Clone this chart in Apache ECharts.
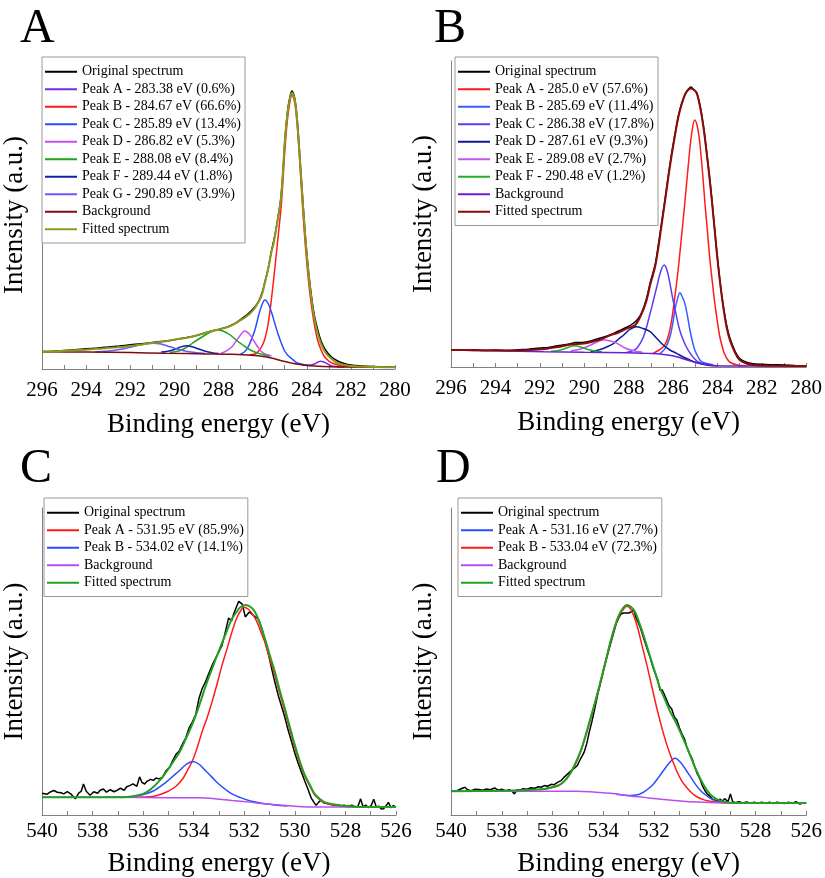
<!DOCTYPE html>
<html>
<head>
<meta charset="utf-8">
<script src="https://cdn.jsdelivr.net/npm/echarts@6/dist/echarts.min.js"></script>
<style>
  html, body { margin: 0; padding: 0; background: #fff; }
  #chart { width: 825px; height: 878px; }
</style>
</head>
<body>
<div id="chart"></div>
<script>
// ---- 面板 A: C 1s (binding energy, intensity in a.u.) ----
const A_orig = [[296,17.5],[295.5,17.8],[295,18.5],[294.5,19.2],[294,20.2],[293.5,21],[293,22],[292.5,23],[292,24.2],[291.5,25.2],[291,26.5],[290.5,27.8],[290,29.3],[289.5,31.2],[289,33.5],[288.5,36.8],[288,39.6],[287.6,42],[287.3,45],[287,49.5],[286.75,53.5],[286.5,58.5],[286.3,63.5],[286.15,69],[286,78],[285.9,87],[285.75,100],[285.6,118],[285.45,133],[285.3,152],[285.18,170],[285.08,197],[285,226],[284.9,252],[284.8,268],[284.67,278],[284.55,271],[284.45,254],[284.36,228],[284.22,182],[284.08,138],[283.93,100],[283.78,72],[283.65,53],[283.5,39],[283.35,28],[283.15,19],[282.9,12.5],[282.6,8],[282.3,5.5],[282,4],[281.5,3],[281,2.4],[280.5,2],[280,1.8]];
const A_peakA = [[284.2,4.1],[284,3.7],[283.8,4],[283.65,5],[283.5,6.8],[283.38,7.8],[283.25,7.2],[283.1,5.6],[282.95,3.9],[282.8,2.8],[282.6,2.2],[282.3,2]];
const A_peakB = [[286.6,14.2],[286.35,15],[286.2,17.5],[286.05,22],[285.9,30],[285.75,45],[285.6,70],[285.45,100],[285.3,132],[285.15,165],[285,216],[284.9,244],[284.8,262],[284.67,274],[284.55,267],[284.45,248],[284.36,222],[284.22,172],[284.08,128],[283.93,90],[283.78,62],[283.65,44],[283.51,29],[283.35,19],[283.2,12.5],[283,8],[282.8,5.5],[282.5,3.5],[282.2,2.6],[281.8,2.2],[281.3,2]];
const A_peakC = [[287,15],[286.8,17.5],[286.65,22.3],[286.5,30],[286.35,39],[286.2,52],[286.05,63],[285.9,69],[285.75,65.5],[285.6,57],[285.45,45.7],[285.3,35],[285.15,25.7],[285,18],[284.85,13.5],[284.7,10.7],[284.55,7.8],[284.4,5.7],[284.1,4.3],[283.8,3.5]];
const A_peakD = [[287.9,15.5],[287.7,17.3],[287.4,22],[287.2,28],[287,34],[286.82,38],[286.6,35],[286.42,29],[286.25,23],[286.05,17.3],[285.8,14.3],[285.6,13]];
const A_peakE = [[290.2,16.5],[289.8,18],[289.5,21],[289.2,25.5],[288.9,30],[288.6,34],[288.3,37.5],[288.07,39],[287.8,38],[287.5,34.5],[287.2,29],[286.9,24],[286.6,19.5],[286.3,16.5],[286,14.5],[285.7,12.8]];
const A_peakF = [[290.6,17],[290.3,17.8],[290,19.5],[289.75,21.8],[289.44,23.3],[289.15,22],[288.9,20],[288.6,17.8],[288.3,16.3],[288,15.5]];
const A_peakG = [[293.6,17.2],[293,18],[292.5,19.5],[292,21.8],[291.5,24.2],[291,25.8],[290.6,25],[290.2,22.2],[289.8,19.5],[289.4,17.4],[289,16.3],[288.6,15.6]];
const A_bg = [[296,17.3],[294,16.9],[292,16.4],[290.4,15.7],[288.5,15.1],[287.4,14.7],[286.5,13.8],[285.9,12.3],[285.5,10.5],[285.15,8.3],[284.8,6.5],[284.4,4.7],[284,3.6],[283.66,3],[282.9,2.3],[282,2],[280,1.8]];
const A_fit = [[296,17.3],[295,18.2],[294,19.3],[293.37,20.3],[292.6,21.7],[291.88,23.3],[291.4,24.8],[291,26],[290.5,27.5],[290.08,29],[289.7,30.4],[289.33,31.7],[288.95,33.8],[288.59,36.3],[288.3,38],[288.07,39],[287.8,40.6],[287.54,42.3],[287.3,44.8],[287.02,48.5],[286.8,51.5],[286.57,55.5],[286.35,61],[286.2,66.5],[286.05,73],[285.9,86],[285.75,100],[285.62,115],[285.5,126],[285.35,145],[285.18,169],[285.08,196],[285,225.7],[284.9,250],[284.8,266],[284.67,276],[284.55,270],[284.45,252],[284.36,226],[284.22,180],[284.08,136],[283.93,98],[283.78,69],[283.65,50],[283.51,36],[283.35,25],[283.14,16],[282.9,10.5],[282.61,6],[282.3,4],[282,3],[281.5,2.4],[281,2],[280,1.8]];
const A_names = ['Original spectrum','Peak A - 283.38 eV (0.6%)','Peak B - 284.67 eV (66.6%)','Peak C - 285.89 eV (13.4%)','Peak D - 286.82 eV (5.3%)','Peak E - 288.08 eV (8.4%)','Peak F - 289.44 eV (1.8%)','Peak G - 290.89 eV (3.9%)','Background','Fitted spectrum'];

// ---- 面板 B ----
const B_orig = [[296,17.3],[295.5,16.8],[295,17.2],[294.5,16.5],[294,16.9],[293.5,16.4],[293,17.2],[292.5,17.8],[292,18.9],[291.6,19.6],[291.2,21.2],[290.8,22.4],[290.4,24.4],[290,24.8],[289.6,26.8],[289.27,29],[288.9,31.5],[288.5,35.5],[288.06,40],[287.8,43.5],[287.6,47.5],[287.4,55],[287.2,68],[287.02,85],[286.81,102],[286.65,124],[286.51,145],[286.36,168],[286.21,192],[286.06,214],[285.91,233],[285.76,251],[285.62,263],[285.45,273],[285.3,278],[285.2,280],[285.05,277],[284.93,274],[284.78,261],[284.63,241],[284.48,214],[284.33,185],[284.18,151],[284.04,118],[283.89,87],[283.74,62],[283.59,42],[283.44,29],[283.2,15.5],[283,8.5],[282.7,4.8],[282.4,3.3],[282,2.7],[281.5,2.3],[281,2],[280.5,1.5],[280,1.2]];
const B_peakA = [[286.9,13.6],[286.66,16.5],[286.5,19],[286.36,22.5],[286.21,31],[286.06,47],[285.92,70],[285.77,97],[285.62,130],[285.47,164],[285.32,200],[285.17,232],[285.02,247],[284.9,240],[284.8,225],[284.68,197],[284.57,166],[284.46,138],[284.35,110],[284.23,85],[284.12,64],[284,45],[283.9,31],[283.78,20],[283.68,13],[283.53,7],[283.38,4],[283.1,2],[282.7,1.2]];
const B_peakB = [[286.6,13.2],[286.36,18.3],[286.14,30],[286,45],[285.92,57],[285.8,68],[285.69,74.3],[285.58,70],[285.47,63.7],[285.35,51],[285.24,37],[285.12,25],[285.02,17],[284.87,10],[284.72,5.3],[284.5,3.7],[284.2,2.2]];
const B_peakC = [[288.1,14.5],[287.85,16],[287.63,18.7],[287.33,30.3],[287.03,53.7],[286.88,67],[286.73,80.3],[286.55,96],[286.39,102],[286.25,95],[286.14,83.7],[286,67],[285.84,50.3],[285.7,37],[285.54,27],[285.35,18],[285.17,12],[285,7.5],[284.8,4.3],[284.5,2.5],[284.2,1.8]];
const B_peakD = [[289.71,15.3],[289.4,16.8],[289.12,18.7],[288.9,21],[288.67,23.7],[288.45,28],[288.22,32],[287.95,37.5],[287.66,40.3],[287.35,38.5],[287.03,35.3],[286.75,29],[286.44,22],[286.14,17],[285.84,13.7],[285.54,10],[285.24,7],[284.95,4.5],[284.65,2.7],[284.35,1.6],[284,1.3]];
const B_peakE = [[290.6,16.3],[290.16,18],[289.71,22],[289.4,25.3],[289.12,27],[288.82,26],[288.52,23.7],[288.15,18.7],[287.78,16.3],[287.4,15]];
const B_peakF = [[291.5,15.8],[291.2,16.3],[290.95,17.8],[290.7,19.8],[290.45,21.3],[290.15,20],[289.86,17.7],[289.56,16],[289.2,15.2]];
const B_bg = [[296,17],[294,16.3],[291.8,15.3],[290,14.8],[288.08,14.3],[287,13.5],[286.58,13],[286.2,11.8],[285.84,10.3],[285.5,8],[285.1,5.3],[284.7,3.3],[284.35,2],[284,1.3],[283,1],[280,1]];
const B_fit = [[296,17],[295,16.8],[294,16.5],[293.3,16.5],[292.5,17],[291.8,18],[291.2,20],[290.6,22.5],[290,23.5],[289.6,25.5],[289.27,27.5],[288.8,32],[288.5,34],[288.06,38.7],[287.7,42],[287.4,54],[287.2,66],[287.02,83],[286.81,100],[286.65,121],[286.51,143],[286.36,166],[286.21,190],[286.06,212],[285.91,232],[285.76,250],[285.62,262],[285.45,273],[285.3,277.5],[285.2,278.5],[285.05,277],[284.93,273.7],[284.78,260],[284.63,240],[284.48,213],[284.33,183.7],[284.18,150],[284.04,117],[283.89,86],[283.74,60.3],[283.59,40],[283.44,27],[283.2,14],[283,7],[282.7,3.5],[282.4,2],[282,1.5],[281,1.2],[280,1]];
const B_names = ['Original spectrum','Peak A - 285.0 eV (57.6%)','Peak B - 285.69 eV (11.4%)','Peak C - 286.38 eV (17.8%)','Peak D - 287.61 eV (9.3%)','Peak E - 289.08 eV (2.7%)','Peak F - 290.48 eV (1.2%)','Background','Fitted spectrum'];

// ---- 面板 C: O 1s ----
const C_orig = [[540,22],[539.8,21],[539.65,23.5],[539.53,24.7],[539.4,23],[539.25,22.5],[539.14,21.3],[539,23.5],[538.85,21],[538.68,16.3],[538.55,22],[538.45,24],[538.36,31.3],[538.25,24],[538.1,20],[537.95,23.5],[537.8,22],[537.7,25],[537.57,26.3],[537.45,23],[537.3,25.5],[537.15,23.5],[537.05,24.7],[536.9,27],[536.75,25],[536.65,28.5],[536.53,29.7],[536.4,31.5],[536.25,29],[536.14,38.5],[536.05,33],[535.94,31.3],[535.85,34],[535.7,36],[535.6,35],[535.49,37.3],[535.38,36.5],[535.23,38],[535.1,44.7],[534.96,48],[534.83,55],[534.7,61.3],[534.57,64.7],[534.44,72],[534.31,78],[534.18,88],[534.05,94],[533.92,101.3],[533.79,118],[533.66,128],[533.53,134.7],[533.4,143],[533.27,151.3],[533.14,158],[533.01,164.7],[532.88,171.3],[532.75,184.7],[532.62,199],[532.5,196],[532.42,203],[532.36,204.7],[532.28,212],[532.22,215.7],[532.16,216.3],[532.08,213],[531.96,200],[531.9,201.3],[531.8,205],[531.7,203],[531.57,200],[531.44,198],[531.3,188],[531.18,176],[531.05,163],[530.92,148],[530.8,135],[530.66,121],[530.53,110],[530.4,99],[530.27,86],[530.14,75],[530.01,63],[529.88,53],[529.75,44],[529.62,35],[529.48,26],[529.35,17],[529.25,13],[529.16,9.7],[529.06,13],[528.96,15.3],[528.85,12],[528.7,11.5],[528.57,11.3],[528.45,9.5],[528.3,10.5],[528.18,9],[528.05,10],[527.9,8.5],[527.75,9.8],[527.6,8],[527.5,9],[527.4,16.3],[527.3,8],[527.2,10],[527.1,7.5],[526.98,9.5],[526.88,16],[526.78,8],[526.68,9],[526.58,6],[526.49,6.3],[526.4,9],[526.3,12.7],[526.2,7.5],[526.1,9.5],[526,8]];
const C_peakA = [[536.4,18],[535.62,18.7],[535.2,22],[534.96,24.7],[534.7,29],[534.44,36.3],[534.25,45],[534.05,54.7],[533.85,69],[533.66,84.7],[533.46,99],[533.27,114.7],[533.07,133],[532.88,151.3],[532.68,168],[532.49,184.7],[532.3,199],[532.15,206],[532.03,209.7],[531.85,208],[531.65,202],[531.5,195],[531.3,182],[531.18,174],[531,158],[530.79,141],[530.6,123],[530.4,105],[530.2,86],[530.01,69],[529.8,52],[529.62,40],[529.4,29],[529.22,20.5],[529,15],[528.83,12],[528.5,10],[528,8.5],[527.5,8]];
const C_peakB = [[537.5,17.9],[536.8,18],[536.14,19.7],[535.62,24],[535.1,33],[534.83,39],[534.57,44.7],[534.3,51],[534.05,54],[533.8,51.5],[533.53,44.7],[533.27,38],[533.01,31.3],[532.75,26],[532.49,21.3],[532.15,17.5],[531.83,14.7],[531.5,12.8],[531.18,11.3],[530.8,10.2],[530.3,9.2]];
const C_bg = [[540,18],[537,17.8],[535,17.5],[533.79,17.3],[533,16],[532.49,14.7],[531.8,13],[531.18,11.3],[530.5,9.8],[529.88,8.7],[529,8.1],[528,8],[526,8]];
const C_fit = [[540,18],[538,18],[536.79,18],[536.4,19],[536,21.3],[535.7,26],[535.35,34.7],[535.1,43],[534.83,53],[534.57,63],[534.31,77],[534.05,92],[533.79,110],[533.53,130],[533.27,148],[533,166],[532.75,182],[532.49,198],[532.3,205],[532.16,209.7],[531.96,212],[531.75,210],[531.57,204.7],[531.38,193],[531.18,178],[531,162],[530.79,144.7],[530.6,126],[530.4,108],[530.2,89],[530.01,71.3],[529.8,54],[529.62,41.3],[529.4,30],[529.22,21.3],[529,16],[528.83,13],[528.5,10.8],[528.18,9.7],[527.7,8.7],[527.27,8],[526,8]];
const C_names = ['Original spectrum','Peak A - 531.95 eV (85.9%)','Peak B - 534.02 eV (14.1%)','Background','Fitted spectrum'];

// ---- 面板 D ----
const D_orig = [[540,24.5],[539.85,24],[539.72,25],[539.6,26.5],[539.45,28],[539.35,25.5],[539.2,24.5],[539.05,26],[538.9,25.8],[538.75,25],[538.6,26.3],[538.45,25.5],[538.28,27.3],[538.15,25],[538,26],[537.85,24.5],[537.7,25.5],[537.6,24],[537.5,21.3],[537.4,25.5],[537.3,25],[537.15,26.5],[537,26],[536.85,27.5],[536.7,27],[536.55,28.5],[536.45,28],[536.32,29.7],[536.2,29],[536.05,31],[535.95,30.5],[535.8,33],[535.65,35],[535.55,38],[535.41,41.3],[535.3,44],[535.15,47],[535.02,50],[534.89,57],[534.76,63],[534.65,72],[534.55,84],[534.45,94],[534.33,108],[534.2,124],[534.08,136],[533.95,150],[533.85,160],[533.72,172],[533.6,183],[533.48,194],[533.39,199],[533.3,203],[533.2,204],[533.13,205.3],[533,204],[532.9,205],[532.8,207.3],[532.72,200],[532.67,198],[532.55,190],[532.45,182],[532.35,174],[532.25,166],[532.15,159],[532.05,150],[531.95,143],[531.85,136],[531.76,126],[531.68,126.5],[531.6,122],[531.5,116],[531.4,110],[531.3,107],[531.2,99],[531.1,96],[531,88],[530.9,82],[530.8,77],[530.7,68],[530.6,62],[530.5,57],[530.4,49],[530.3,42],[530.2,37],[530.1,30],[530,25],[529.9,21],[529.8,19],[529.7,16],[529.6,15],[529.5,14.5],[529.4,16],[529.3,14],[529.22,16.5],[529.15,18],[529.08,13.5],[528.99,21.3],[528.9,13.5],[528.8,12.5],[528.65,13.5],[528.5,12.2],[528.35,13.2],[528.2,12],[528.05,13],[527.9,11.8],[527.75,13],[527.6,12],[527.45,12.8],[527.3,11.6],[527.15,13],[527,12.2],[526.85,11.5],[526.7,12.8],[526.55,12],[526.4,13.5],[526.25,11],[526.1,12.5],[526,12]];
const D_peakA = [[533.5,21],[532.93,19.7],[532.6,20.8],[532.41,23],[532.2,27],[532.02,31.3],[531.82,38],[531.63,44.7],[531.4,52.5],[531.17,57.3],[530.95,53],[530.72,44.7],[530.52,37],[530.33,29.7],[530.14,24],[529.94,19.7],[529.75,16.5],[529.55,14],[529.3,12.8],[529,12.3]];
const D_peakB = [[536.5,25.8],[536,27.8],[535.67,31],[535.28,42.5],[534.89,64],[534.5,97],[534.11,134],[533.72,174],[533.39,200.5],[533.2,208],[533.07,210.7],[532.9,207],[532.67,191.3],[532.48,172],[532.28,151.3],[532.08,129],[531.89,108],[531.7,89],[531.5,71.3],[531.3,57],[531.11,44.7],[530.92,35],[530.72,28],[530.52,22.5],[530.33,18.7],[530.05,15.5],[529.8,14],[529.5,12.8],[529,12.3],[528.5,12]];
const D_bg = [[540,24],[537,24],[535.02,24],[534.3,23],[533.72,22],[532.93,19.3],[532.4,17.8],[531.89,16.3],[531.3,15],[530.85,14],[530.3,13.2],[529.8,12.7],[529,12.2],[528,12],[526,12]];
const D_fit = [[540,24],[538,24.5],[537,25.2],[536.32,26.3],[536,28.3],[535.67,31.3],[535.45,36.5],[535.28,43],[535.1,52],[534.89,64.7],[534.7,80],[534.5,98],[534.3,116],[534.11,134.7],[533.9,156],[533.72,174.7],[533.55,190],[533.39,201.3],[533.22,209],[533.07,212],[532.9,210],[532.74,204.7],[532.58,194],[532.41,181.3],[532.25,168],[532.09,154.7],[531.92,141],[531.76,128],[531.56,116],[531.37,104.7],[531.17,95],[530.98,84.7],[530.78,73],[530.59,61.3],[530.4,49],[530.2,38],[530,28.5],[529.8,21.3],[529.6,17],[529.41,14.7],[529.15,13],[528.89,12.3],[528,12],[526,12]];
const D_names = ['Original spectrum','Peak A - 531.16 eV (27.7%)','Peak B - 533.04 eV (72.3%)','Background','Fitted spectrum'];

const panelLetters = ['A', 'B', 'C', 'D'];
const xRanges = [[280, 296], [280, 296], [526, 540], [526, 540]];

// 布局（像素）
const FONT = 'Liberation Serif';
const layout = [
  { left: 38, top: 61, width: 357, height: 308, legendLeft: 42, legendTop: 57, letterX: 20, letterY: 29, labelMargin: 11, nameGap: 42 },
  { left: 451, top: 61, width: 358, height: 306, legendLeft: 455, legendTop: 57, letterX: 434, letterY: 29, labelMargin: 11, nameGap: 42 },
  { left: 38, top: 508, width: 358, height: 310, legendLeft: 44, legendTop: 498, letterX: 20, letterY: 469, labelMargin: 6, nameGap: 35 },
  { left: 451, top: 508, width: 358, height: 310, legendLeft: 458, legendTop: 498, letterX: 436, letterY: 469, labelMargin: 6, nameGap: 35 }
];

const panels = [
  { names: A_names, curves: [A_orig, A_peakA, A_peakB, A_peakC, A_peakD, A_peakE, A_peakF, A_peakG, A_bg, A_fit],
    colors: ['#000000', '#7a2be0', '#ff1a1a', '#2a4dff', '#c84cf0', '#1fa31f', '#1020a8', '#6b55ff', '#7b0d0d', '#8a9a1e'] },
  { names: B_names, curves: [B_orig, B_peakA, B_peakB, B_peakC, B_peakD, B_peakE, B_peakF, B_bg, B_fit],
    colors: ['#000000', '#ff1a1a', '#3a5cff', '#5b3cf2', '#0d1a94', '#c455ee', '#22b022', '#6a1fd6', '#8b0a0a'] },
  { names: C_names, curves: [C_orig, C_peakA, C_peakB, C_bg, C_fit],
    colors: ['#000000', '#ff1a1a', '#2a4dff', '#b84ef2', '#22a022'] },
  { names: D_names, curves: [D_orig, D_peakA, D_peakB, D_bg, D_fit],
    colors: ['#000000', '#2a4dff', '#ff1a1a', '#b84ef2', '#22a022'] }
];

const AXIS_GREY = '#808080';
const grids = [], xAxes = [], yAxes = [], legends = [], series = [], graphics = [];

panels.forEach((p, i) => {
  const L = layout[i];
  grids.push({ left: L.left, top: L.top, width: L.width, height: L.height });

  xAxes.push({
    gridIndex: i, type: 'value', inverse: true,
    min: xRanges[i][0], max: xRanges[i][1], interval: 2,
    axisLine: { show: true, onZero: false, lineStyle: { color: AXIS_GREY, width: 1 } },
    axisTick: { show: true, inside: true, length: 4, lineStyle: { color: AXIS_GREY } },
    minorTick: { show: true, splitNumber: 2, length: 4, lineStyle: { color: AXIS_GREY } },
    splitLine: { show: false },
    axisLabel: { color: '#000', fontFamily: FONT, fontSize: 21, margin: L.labelMargin },
    name: 'Binding energy (eV)', nameLocation: 'middle', nameGap: L.nameGap,
    nameTextStyle: { color: '#000', fontFamily: FONT, fontSize: 27 }
  });

  yAxes.push({
    gridIndex: i, type: 'value', min: 0, max: L.height,
    axisLine: { show: true, lineStyle: { color: AXIS_GREY, width: 1 } },
    axisTick: { show: false }, axisLabel: { show: false }, splitLine: { show: false },
    name: 'Intensity (a.u.)', nameLocation: 'middle', nameGap: 14, nameRotate: 90,
    nameTextStyle: { color: '#000', fontFamily: FONT, fontSize: 27 }
  });

  // 图例：细线图标，灰色边框
  const keys = p.names.map(n => panelLetters[i] + '|' + n);
  legends.push({
    orient: 'vertical', left: L.legendLeft, top: L.legendTop,
    data: keys, selectedMode: false,
    formatter: n => n.split('|')[1],
    icon: 'rect', itemWidth: 32, itemHeight: 2, itemGap: 2,
    padding: [7, 4, 6, 3],
    borderColor: '#9a9a9a', borderWidth: 1, backgroundColor: '#fff',
    textStyle: { color: '#000', fontFamily: FONT, fontSize: 14, lineHeight: 15.5 }
  });

  p.curves.forEach((d, k) => {
    const isOrig = k === 0;
    const isFit = k === p.curves.length - 1;
    series.push({
      type: 'line', name: keys[k],
      xAxisIndex: i, yAxisIndex: i,
      data: d, symbol: 'none', showSymbol: false,
      smooth: isOrig && i >= 2 ? false : 0.35,
      lineStyle: { color: p.colors[k], width: isFit ? 2 : 1.5 },
      itemStyle: { color: p.colors[k] },
      silent: true, z: 2 + k
    });
  });

  graphics.push({
    type: 'text', left: L.letterX, top: L.letterY - 24,
    style: { text: panelLetters[i], font: '48px "' + FONT + '"', fill: '#000' }
  });
});

const chart = echarts.init(document.getElementById('chart'), null, { renderer: 'canvas' });
chart.setOption({
  animation: false,
  backgroundColor: '#fff',
  grid: grids, xAxis: xAxes, yAxis: yAxes,
  legend: legends, series: series, graphic: graphics
});
</script>
</body>
</html>
